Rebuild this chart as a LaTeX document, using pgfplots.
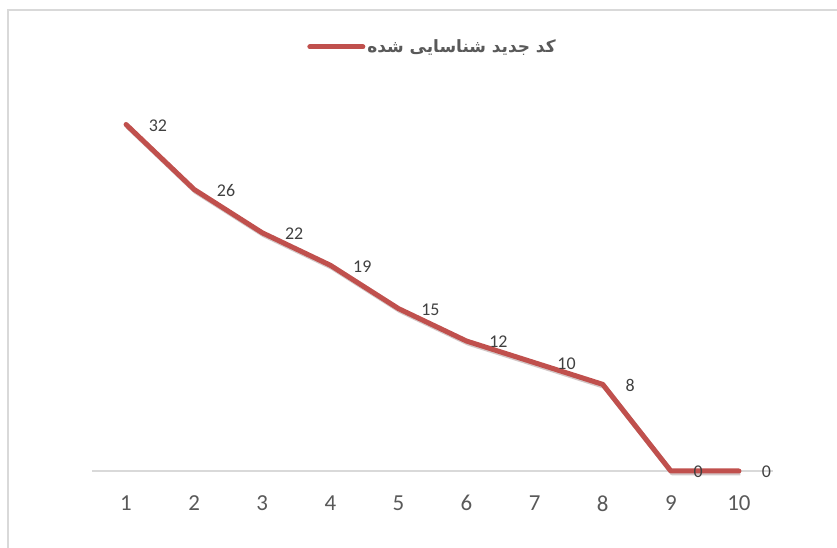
\documentclass[border=0pt]{standalone}
\usepackage{fontspec}
\setmainfont{Carlito}
\newfontfamily\arabicfont[Script=Arabic, BoldFont={DejaVu Sans Bold}]{DejaVu Sans}
\TeXXeTstate=1
\usepackage{pgfplots}
\pgfplotsset{compat=1.18}
\definecolor{linered}{HTML}{C0504D}
\definecolor{ticktext}{HTML}{595959}
\definecolor{labeltext}{HTML}{404040}
\definecolor{axisgray}{HTML}{D9D9D9}
\begin{document}
\begin{tikzpicture}
\path[use as bounding box] (0,0) rectangle (837bp,548bp);
\draw[axisgray, line width=1.2bp] (8bp,0) -- (8bp,538bp) -- (837bp,538bp);
\begin{axis}[
  at={(92bp,77bp)}, anchor=south west,
  scale only axis, width=681bp, height=379bp,
  xmin=0.5, xmax=10.5, ymin=0, ymax=35,
  axis x line=bottom, axis y line=none,
  x axis line style={axisgray, line width=1.2bp, -},
  xtick={1,...,10}, major tick length=0,
  xticklabel style={font=\fontsize{23}{26}\selectfont, text=ticktext, yshift=-21bp},
  /pgf/number format/assume math mode=true,
  clip=false,
  legend style={at={(0.5,1.119)}, anchor=center, draw=none, fill=none,
    font=\fontsize{17}{20}\selectfont\bfseries, text=ticktext},
  legend cell align=left,
  legend image code/.code={\draw[linered, line width=5bp, line cap=round] (0bp,0bp) -- (53bp,0bp);},
]
\addplot[linered!40!black, opacity=0.25, line width=5bp, line join=round, forget plot, xshift=1.5bp, yshift=-2bp]
  coordinates {(1,32) (2,26) (3,22) (4,19) (5,15) (6,12) (7,10) (8,8) (9,0) (10,0)};
\addplot[linered, line width=5bp, line join=round, line cap=round,
  nodes near coords,
  every node near coord/.append style={anchor=west, xshift=17bp, yshift=-1bp, text=labeltext, font=\fontsize{18}{20}\selectfont}]
  coordinates {(1,32) (2,26) (3,22) (4,19) (5,15) (6,12) (7,10) (8,8) (9,0) (10,0)};
\addlegendentry{\arabicfont\bfseries\beginR کد جدید شناسایی شده\endR}
\end{axis}
\end{tikzpicture}
\end{document}
